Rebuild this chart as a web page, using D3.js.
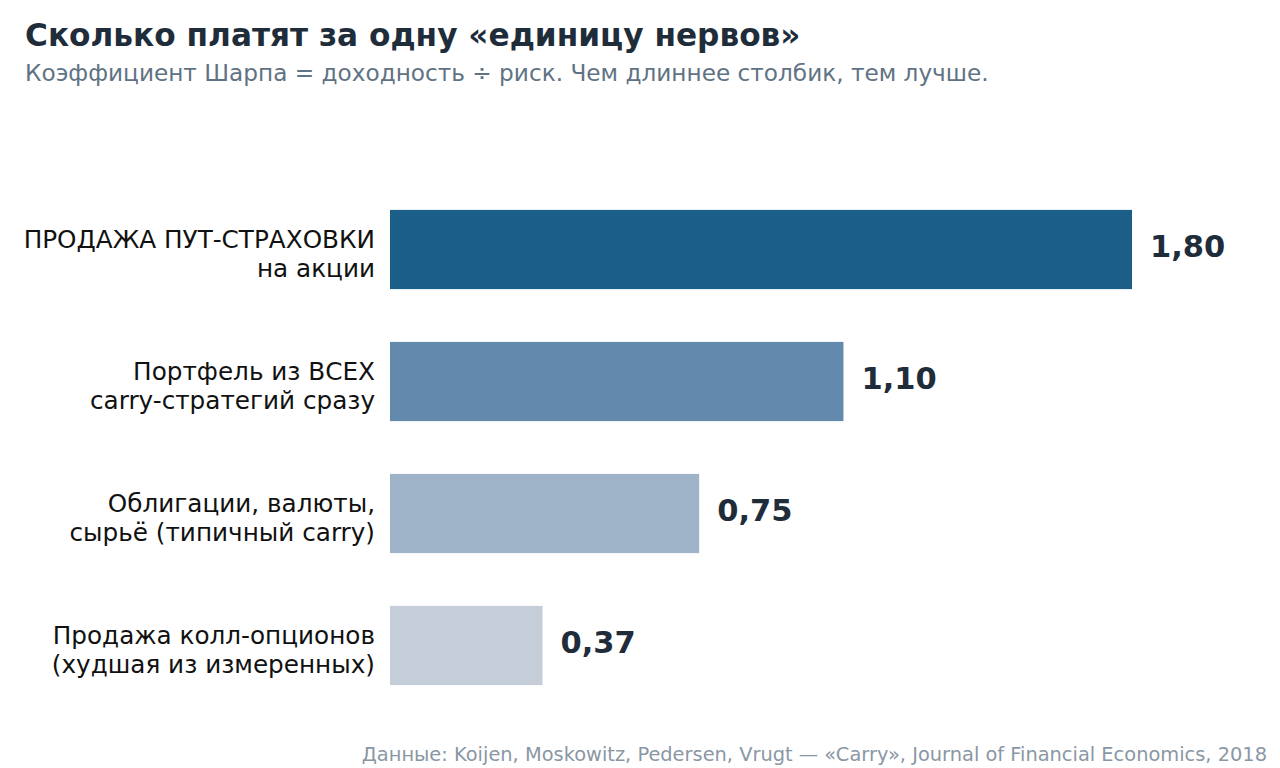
<!DOCTYPE html>
<html>
<head>
<meta charset="utf-8">
<script src="https://cdn.jsdelivr.net/npm/d3@7"></script>
<style>
  html, body { margin: 0; padding: 0; background: #ffffff; }
  svg text { font-family: "DejaVu Sans", sans-serif; }
</style>
</head>
<body>
<script>
// chart data
const categories = [
  ["ПРОДАЖА ПУТ-СТРАХОВКИ", "на акции"],
  ["Портфель из ВСЕХ", "carry-стратегий сразу"],
  ["Облигации, валюты,", "сырьё (типичный carry)"],
  ["Продажа колл-опционов", "(худшая из измеренных)"]
];
const sharpe = [1.80, 1.10, 0.75, 0.37];
const barColors = ["#1b5f88", "#6389ad", "#9fb4c9", "#c5cdd9"];

const width = 1280;
const height = 768;
const margin = { left: 390, right: 90, top: 183.5, bottom: 56.5 };

const svg = d3.select("body")
    .append("svg")
    .attr("width", width)
    .attr("height", height);

// scales
const xScale = d3.scaleLinear()
    .domain([0, 1.8])
    .range([margin.left, 1132]);

const yScale = d3.scaleBand()
    .domain(d3.range(sharpe.length))
    .range([margin.top, height - margin.bottom])
    .paddingInner(0.4)
    .paddingOuter(0.2);

// title + subtitle
svg.append("text")
    .attr("x", 25)
    .attr("y", 46)
    .attr("font-size", 31.2)
    .attr("font-weight", "bold")
    .attr("fill", "#1f2d3b")
    .text("Сколько платят за одну «единицу нервов»");

svg.append("text")
    .attr("x", 25)
    .attr("y", 81)
    .attr("font-size", 23.2)
    .attr("fill", "#5f7384")
    .text("Коэффициент Шарпа = доходность ÷ риск. Чем длиннее столбик, тем лучше.");

// bars
svg.append("g")
    .selectAll("rect")
    .data(sharpe)
    .enter()
    .append("rect")
    .attr("x", xScale(0))
    .attr("y", (d, i) => yScale(i))
    .attr("width", d => xScale(d) - xScale(0))
    .attr("height", yScale.bandwidth())
    .attr("fill", (d, i) => barColors[i]);

// value labels
svg.append("g")
    .selectAll("text")
    .data(sharpe)
    .enter()
    .append("text")
    .attr("x", d => xScale(d) + 18)
    .attr("y", (d, i) => yScale(i) + yScale.bandwidth() / 2)
    .attr("dy", "0.25em")
    .attr("font-size", 30.5)
    .attr("font-weight", "bold")
    .attr("fill", "#1f2d3b")
    .text(d => d.toFixed(2).replace(".", ","));

// category labels (two lines, right aligned)
const labels = svg.append("g")
    .selectAll("text")
    .data(categories)
    .enter()
    .append("text")
    .attr("text-anchor", "end")
    .attr("font-size", 24.7)
    .attr("fill", "#111111")
    .attr("transform", (d, i) =>
        "translate(375," + (yScale(i) + yScale.bandwidth() / 2) + ")");

labels.selectAll("tspan")
    .data(d => d)
    .enter()
    .append("tspan")
    .attr("x", 0)
    .attr("y", (d, j) => j === 0 ? -2 : 27.3)
    .text(d => d);

// source
svg.append("text")
    .attr("x", 1267)
    .attr("y", 761)
    .attr("text-anchor", "end")
    .attr("font-size", 19.4)
    .attr("fill", "#8a97a4")
    .text("Данные: Koijen, Moskowitz, Pedersen, Vrugt — «Carry», Journal of Financial Economics, 2018");
</script>
</body>
</html>
